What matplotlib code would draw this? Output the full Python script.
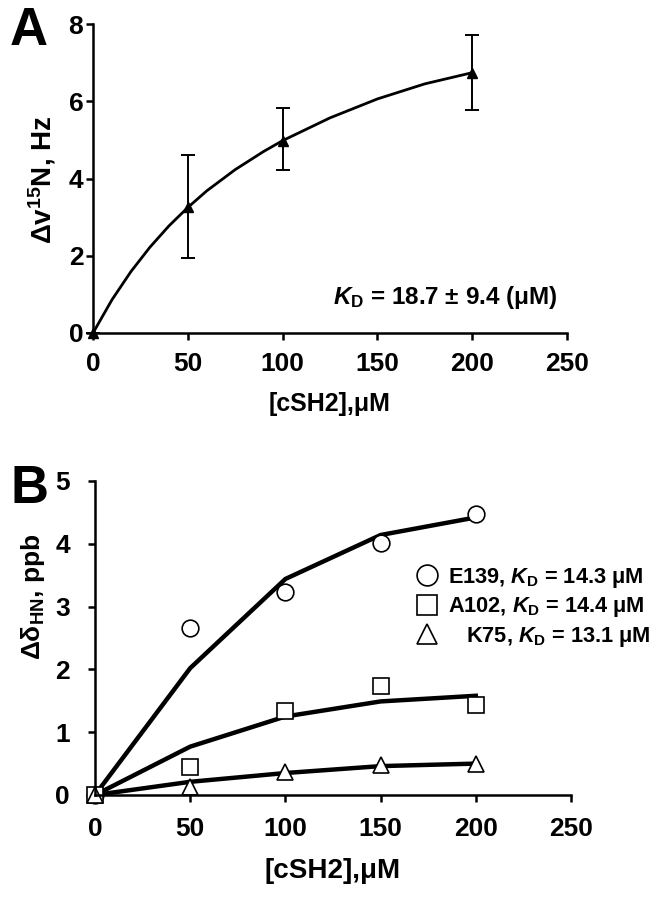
import matplotlib
matplotlib.use('Agg')
import matplotlib.pyplot as plt

plt.rcParams['font.family'] = ['Liberation Sans', 'DejaVu Sans']
plt.rcParams['font.weight'] = 'bold'
plt.rcParams['mathtext.fontset'] = 'custom'
plt.rcParams['mathtext.rm'] = 'Liberation Sans:bold'
plt.rcParams['mathtext.bf'] = 'Liberation Sans:bold'
plt.rcParams['mathtext.it'] = 'Liberation Sans:italic:bold'

# panel A: measured points with error bars
conc_a = [0, 50, 100, 200]
shift_a = [0.0, 3.25, 4.98, 6.72]
err_low_a = [0.0, 1.30, 0.76, 0.95]
err_high_a = [0.0, 1.35, 0.85, 1.00]

# panel A: fitted curve
fit_x_a = [0, 10, 20, 30, 40, 50, 60, 75, 90, 100, 125, 150, 175, 200]
fit_y_a = [0.0, 0.86, 1.59, 2.22, 2.77, 3.25, 3.68, 4.23, 4.70, 4.98, 5.57, 6.06, 6.45, 6.74]

# panel B
conc_b = [0, 50, 100, 150, 200]
e139_pts = [0.0, 2.66, 3.24, 4.01, 4.47]
e139_fit = [0.0, 2.02, 3.44, 4.14, 4.42]
a102_pts = [0.0, 0.45, 1.34, 1.74, 1.43]
a102_fit = [0.0, 0.77, 1.25, 1.49, 1.58]
k75_pts = [0.0, 0.13, 0.36, 0.47, 0.49]
k75_fit = [0.0, 0.21, 0.35, 0.46, 0.50]

labels_b = [r'E139, $K_\mathrm{D}$ = 14.3 μM',
            r'A102, $K_\mathrm{D}$ = 14.4 μM',
            r'   K75, $K_\mathrm{D}$ = 13.1 μM']

W, H = 665, 900
fig = plt.figure(figsize=(6.65, 9), dpi=100)


def px_axes(left, top, right, bottom):
    return fig.add_axes([left / W, 1 - bottom / H, (right - left) / W, (bottom - top) / H])


def style(ax):
    for s in ['top', 'right']:
        ax.spines[s].set_visible(False)
    for s in ['left', 'bottom']:
        ax.spines[s].set_linewidth(1.8)
    ax.tick_params(direction='out', length=5, width=1.8, labelsize=19)


# ---- panel A
axa = px_axes(93, 24, 567, 333)
style(axa)
axa.plot(fit_x_a, fit_y_a, color='black', lw=2.0, clip_on=False)
axa.errorbar(conc_a, shift_a, yerr=[err_low_a, err_high_a], fmt='^', color='black',
             ms=7, elinewidth=1.4, capsize=5, capthick=1.4, clip_on=False)
axa.set_xlim(0, 250)
axa.set_ylim(0, 8)
axa.set_xticks([0, 50, 100, 150, 200, 250])
axa.set_yticks([0, 2, 4, 6, 8])
axa.tick_params(axis='y', pad=2)
axa.tick_params(axis='x', pad=9)
axa.set_xlabel('[cSH2],μM', fontsize=18, fontweight='bold')
axa.xaxis.set_label_coords(0.5, -0.19)
axa.set_ylabel('Δv$^{15}$N, Hz', fontsize=20, fontweight='bold')
axa.yaxis.set_label_coords(-0.074, 0.495)
axa.text(0.98, 0.115, r'$K_\mathrm{D}$ = 18.7 ± 9.4 (μM)', transform=axa.transAxes,
         ha='right', va='center', fontsize=17.5, fontweight='bold')

# ---- panel B
axb = px_axes(95, 481, 571, 795)
style(axb)
mk = dict(color='black', mfc='white', mec='black', mew=1.2, ls='none', clip_on=False)
axb.plot(conc_b, e139_fit, color='black', lw=3.2, clip_on=False)
axb.plot(conc_b, a102_fit, color='black', lw=3.2, clip_on=False)
axb.plot(conc_b, k75_fit, color='black', lw=3.2, clip_on=False)
h1, = axb.plot(conc_b, e139_pts, marker='o', ms=12, **mk)
h2, = axb.plot(conc_b, a102_pts, marker='s', ms=11, **mk)
h3, = axb.plot(conc_b, k75_pts, marker='^', ms=12, **mk)
axb.set_xlim(0, 250)
axb.set_ylim(0, 5)
axb.set_xticks([0, 50, 100, 150, 200, 250])
axb.set_yticks([0, 1, 2, 3, 4, 5])
axb.tick_params(axis='y', pad=13)
axb.tick_params(axis='x', pad=11)
axb.set_xlabel('[cSH2],μM', fontsize=20, fontweight='bold')
axb.xaxis.set_label_coords(0.5, -0.20)
axb.set_ylabel(r'Δδ$_\mathrm{HN}$, ppb', fontsize=19, fontweight='bold')
axb.yaxis.set_label_coords(-0.10, 0.63)
axb.legend([h1, h2, h3], labels_b, loc='upper left', bbox_to_anchor=(416 / W, 1 - 566 / H),
           bbox_transform=fig.transFigure, frameon=False, fontsize=15.7, markerscale=1.25,
           handlelength=1.0, handletextpad=0.45, labelspacing=0.25, borderaxespad=0, borderpad=0)

fig.text(10 / W, 1 - 6 / H, 'A', fontsize=38, fontweight='bold', va='top', ha='left')
fig.text(10 / W, 1 - 464 / H, 'B', fontsize=38, fontweight='bold', va='top', ha='left')

fig.savefig('out.png', dpi=100, facecolor='white')
